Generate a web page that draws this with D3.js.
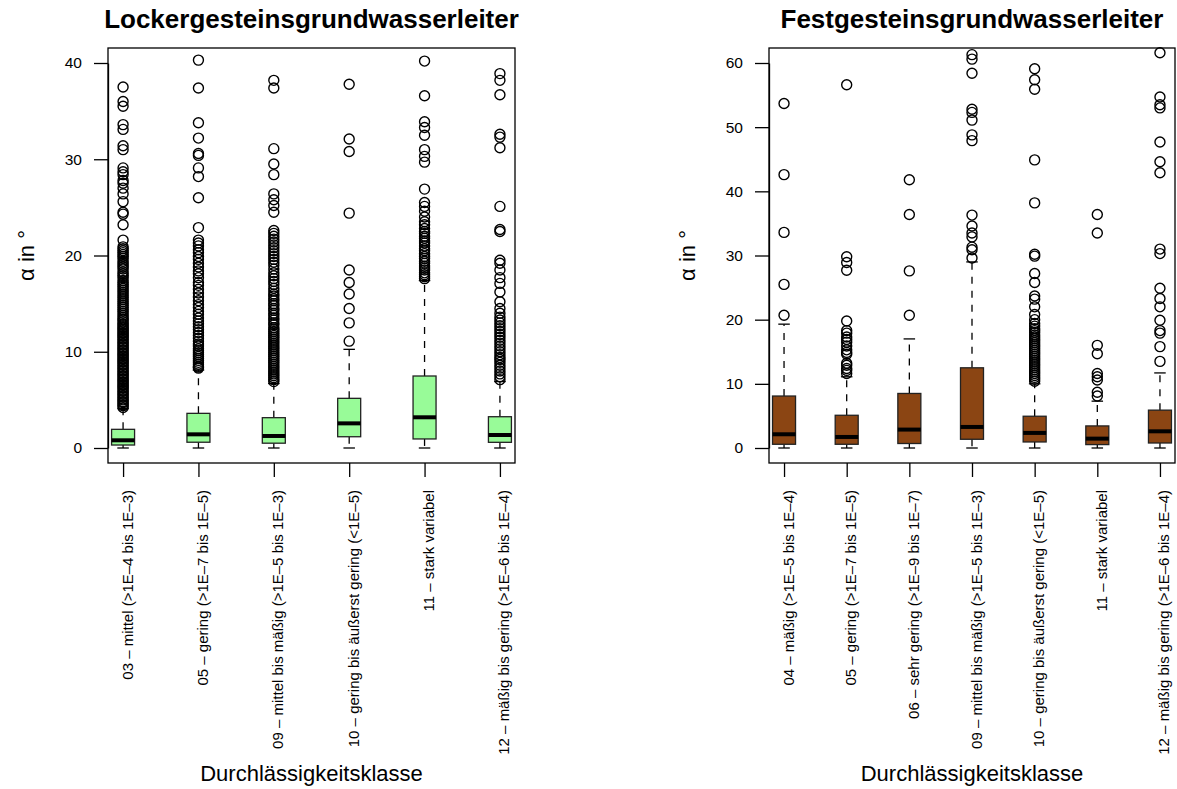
<!DOCTYPE html>
<html>
<head>
<meta charset="utf-8">
<script src="https://cdn.jsdelivr.net/npm/d3@7"></script>
<style>
  body { margin: 0; background: #fff; }
  svg { display: block; font-family: "Liberation Sans", Arial, sans-serif; }
</style>
</head>
<body>
<div id="chart"></div>
<script>
// Lockergestein: Klassen, Box-Statistik [unterer Whisker, Q1, Median, Q3, oberer Whisker], Ausreißer
var lockerClasses = [
    "03 – mittel (>1E–4 bis 1E–3)",
    "05 – gering (>1E–7 bis 1E–5)",
    "09 – mittel bis mäßig (>1E–5 bis 1E–3)",
    "10 – gering bis äußerst gering (<1E–5)",
    "11 – stark variabel",
    "12 – mäßig bis gering (>1E–6 bis 1E–4)"
];
var lockerStats = [
    [0, 0.31, 0.8, 1.94, 4.1],
    [0, 0.6, 1.42, 3.6, 8.1],
    [0, 0.5, 1.25, 3.15, 6.7],
    [0, 1.17, 2.56, 5.16, 10.25],
    [0, 0.94, 3.19, 7.48, 17.4],
    [0, 0.59, 1.35, 3.25, 6.9]
];
var lockerOutliers = [
    [37.5, 36.0, 35.5, 33.6, 33.1, 31.4, 31.0, 29.1, 28.7, 28.4, 27.8, 27.5, 27.0, 26.4, 25.6, 24.5, 24.3, 23.2, 21.6,
     20.9, 20.7, 20.5, 20.3, 20.1, 19.9, 19.7, 19.4, 19.2, 19.0, 18.8, 18.6, 18.3, 18.1, 17.9, 17.7, 17.4, 17.2, 17.0,
     16.8, 16.6, 16.4, 16.2, 16.0, 15.8, 15.6, 15.4, 15.2, 15.0, 14.8, 14.6, 14.4, 14.2, 14.0, 13.8, 13.6, 13.4, 13.3,
     13.1, 12.9, 12.8, 12.6, 12.5, 12.3, 12.2, 12.0, 11.9, 11.7, 11.6, 11.4, 11.3, 11.1, 11.0, 10.8, 10.7, 10.5, 10.4,
     10.2, 10.1, 9.9, 9.8, 9.6, 9.5, 9.3, 9.2, 9.0, 8.9, 8.7, 8.6, 8.4, 8.3, 8.1, 8.0, 7.8, 7.7, 7.5, 7.4, 7.2, 7.1,
     6.9, 6.8, 6.6, 6.5, 6.3, 6.2, 6.0, 5.9, 5.7, 5.6, 5.4, 5.3, 5.1, 5.0, 4.8, 4.7, 4.5, 4.4, 4.2],
    [40.3, 37.4, 33.8, 32.2, 30.6, 30.4, 29.1, 28.2, 26.0, 22.9, 21.6, 21.3, 21.0, 20.6, 20.3, 19.9, 19.6, 19.2, 18.8,
     18.4, 18.1, 17.7, 17.2, 16.9, 16.5, 16.1, 15.7, 15.3, 14.9, 14.6, 14.2, 13.9, 13.5, 13.2, 12.9, 12.6, 12.3, 12.0,
     11.7, 11.4, 11.1, 10.8, 10.6, 10.3, 10.1, 9.9, 9.7, 9.5, 9.3, 9.1, 8.9, 8.7, 8.5, 8.4, 8.3],
    [38.2, 37.4, 31.1, 29.5, 28.4, 26.4, 25.8, 25.2, 24.5, 22.6, 22.3, 22.0, 21.7, 21.4, 21.1, 20.8, 20.5, 20.2, 19.9,
     19.6, 19.3, 19.0, 18.6, 18.2, 17.9, 17.6, 17.3, 17.0, 16.6, 16.3, 16.0, 15.8, 15.5, 15.3, 15.0, 14.8, 14.5, 14.3,
     14.0, 13.8, 13.5, 13.3, 13.0, 12.8, 12.5, 12.3, 12.1, 11.9, 11.7, 11.5, 11.3, 11.1, 10.9, 10.7, 10.5, 10.3, 10.1,
     9.9, 9.7, 9.5, 9.3, 9.1, 8.9, 8.7, 8.5, 8.3, 8.1, 7.9, 7.7, 7.5, 7.3, 7.1, 6.9],
    [37.8, 32.1, 30.8, 24.4, 18.5, 17.2, 16.0, 14.5, 13.0, 11.1],
    [40.2, 36.6, 33.9, 33.3, 32.5, 31.0, 30.3, 29.7, 26.9, 25.5, 25.1, 24.6, 24.0, 23.5, 23.2, 22.8, 22.5, 22.3, 22.0,
     21.8, 21.5, 21.3, 21.0, 20.7, 20.5, 20.2, 19.9, 19.7, 19.4, 19.2, 18.9, 18.7, 18.5, 18.2, 18.0, 17.8, 17.6],
    [38.9, 38.2, 36.7, 32.6, 32.3, 31.2, 25.1, 22.7, 22.5, 19.5, 19.2, 18.5, 17.7, 17.1, 16.2, 15.2, 14.5, 14.0, 13.6,
     13.3, 13.0, 12.7, 12.4, 12.1, 11.8, 11.5, 11.2, 10.9, 10.6, 10.3, 10.0, 9.7, 9.4, 9.2, 8.9, 8.6, 8.3, 8.0, 7.7,
     7.4, 7.1]
];
var lockerTicks = [0, 10, 20, 30, 40];

// Festgestein
var festClasses = [
    "04 – mäßig (>1E–5 bis 1E–4)",
    "05 – gering (>1E–7 bis 1E–5)",
    "06 – sehr gering (>1E–9 bis 1E–7)",
    "09 – mittel bis mäßig (>1E–5 bis 1E–3)",
    "10 – gering bis äußerst gering (<1E–5)",
    "11 – stark variabel",
    "12 – mäßig bis gering (>1E–6 bis 1E–4)"
];
var festStats = [
    [0, 0.58, 2.14, 8.1, 19.3],
    [0, 0.58, 1.72, 5.1, 11.1],
    [0, 0.7, 2.87, 8.5, 17.0],
    [0, 1.36, 3.28, 12.5, 29.0],
    [0, 0.94, 2.35, 4.95, 10.0],
    [0, 0.53, 1.46, 3.44, 7.3],
    [0, 0.78, 2.6, 5.9, 11.7]
];
var festOutliers = [
    [53.7, 42.6, 33.6, 25.5, 20.7],
    [56.6, 29.8, 28.9, 27.7, 19.8, 18.3, 17.9, 17.3, 16.9, 16.5, 15.9, 15.3, 14.9, 14.6, 13.2, 12.9, 12.4, 12.1, 11.6],
    [41.8, 36.4, 27.6, 20.7],
    [61.3, 60.6, 58.4, 52.8, 52.3, 51.1, 48.8, 47.9, 36.3, 34.6, 33.5, 32.9, 31.3, 30.9, 29.6],
    [59.1, 57.4, 55.9, 44.9, 38.2, 30.2, 29.9, 27.2, 25.8, 23.7, 23.2, 22.0, 20.8, 20.0, 19.4, 19.0, 18.6, 18.3, 18.0,
     17.6, 17.3, 17.0, 16.7, 16.4, 16.1, 15.8, 15.5, 15.2, 14.9, 14.6, 14.3, 14.0, 13.7, 13.4, 13.1, 12.8, 12.5, 12.2,
     11.9, 11.6, 11.3, 11.0, 10.7, 10.4],
    [36.4, 33.5, 16.0, 14.7, 11.6, 11.1, 10.6, 8.7, 8.1],
    [61.6, 54.7, 53.5, 53.0, 47.7, 44.6, 42.9, 31.0, 30.3, 24.9, 23.3, 22.0, 19.9, 18.3, 17.9, 15.8, 13.5]
];
var festTicks = [0, 10, 20, 30, 40, 50, 60];

var width = 1177;
var height = 789;

var svg = d3.select("#chart")
    .append("svg")
    .attr("width", width)
    .attr("height", height);

drawPanel({
    left: 108, right: 515, pad: 0.2,
    title: "Lockergesteinsgrundwasserleiter",
    classes: lockerClasses, stats: lockerStats, outliers: lockerOutliers,
    ticks: lockerTicks, fill: "#98fb98"
});
drawPanel({
    left: 769, right: 1175, pad: 0.24,
    title: "Festgesteinsgrundwasserleiter",
    classes: festClasses, stats: festStats, outliers: festOutliers,
    ticks: festTicks, fill: "#8b4513"
});

function drawPanel(p) {
    var top = 48, bottom = 463;
    var boxW = 23;

    // x: one slot per class
    var xScale = d3.scalePoint()
        .domain(p.classes)
        .range([p.left, p.right])
        .padding(p.pad);

    // y: 0..max tick, 15px air inside the frame
    var yScale = d3.scaleLinear()
        .domain([0, d3.max(p.ticks)])
        .range([bottom - 15, top + 15]);

    var g = svg.append("g");

    // title
    g.append("text")
        .attr("x", (p.left + p.right) / 2)
        .attr("y", 28)
        .attr("text-anchor", "middle")
        .attr("font-size", 26)
        .attr("font-weight", "bold")
        .text(p.title);

    // y axis
    var yAxis = d3.axisLeft(yScale)
        .tickValues(p.ticks)
        .tickSizeInner(14)
        .tickSizeOuter(0)
        .tickPadding(12);
    var ya = g.append("g")
        .attr("transform", "translate(" + p.left + ",0)")
        .call(yAxis);
    ya.attr("font-family", null);
    ya.selectAll("text").attr("font-size", 15.5).attr("fill", "#000");
    ya.selectAll("line,path").attr("stroke", "#000").attr("stroke-width", 1.3);

    // x axis with vertical labels
    var xAxis = d3.axisBottom(xScale)
        .tickSizeInner(14)
        .tickSizeOuter(0);
    var xa = g.append("g")
        .attr("transform", "translate(0," + bottom + ")")
        .call(xAxis);
    xa.attr("font-family", null);
    xa.select(".domain").remove();
    xa.selectAll("line").attr("stroke", "#000").attr("stroke-width", 1.3);
    xa.selectAll("text")
        .attr("font-size", 15)
        .attr("fill", "#000")
        .attr("transform", "rotate(-90)")
        .attr("text-anchor", "end")
        .attr("x", -27)
        .attr("y", 9)
        .attr("dy", null);

    // axis titles
    g.append("text")
        .attr("transform", "translate(" + (p.left - 74) + "," + ((top + bottom) / 2) + ") rotate(-90)")
        .attr("text-anchor", "middle")
        .attr("font-size", 22)
        .text("α in °");
    g.append("text")
        .attr("x", (p.left + p.right) / 2)
        .attr("y", 781)
        .attr("text-anchor", "middle")
        .attr("font-size", 22)
        .text("Durchlässigkeitsklasse");

    // boxes
    var boxes = g.selectAll(".box")
        .data(p.stats)
        .enter()
        .append("g")
        .attr("class", "box")
        .attr("transform", function(d, i) { return "translate(" + xScale(p.classes[i]) + ",0)"; });

    // dashed whiskers
    boxes.append("line")
        .attr("x1", 0).attr("x2", 0)
        .attr("y1", function(d) { return yScale(d[3]); })
        .attr("y2", function(d) { return yScale(d[4]); })
        .attr("stroke", "#000").attr("stroke-width", 1.3)
        .attr("stroke-dasharray", "7,7");
    boxes.append("line")
        .attr("x1", 0).attr("x2", 0)
        .attr("y1", function(d) { return yScale(d[1]); })
        .attr("y2", function(d) { return yScale(d[0]); })
        .attr("stroke", "#000").attr("stroke-width", 1.3)
        .attr("stroke-dasharray", "7,7");
    // caps
    [0, 4].forEach(function(k) {
        boxes.append("line")
            .attr("x1", -boxW / 4).attr("x2", boxW / 4)
            .attr("y1", function(d) { return yScale(d[k]); })
            .attr("y2", function(d) { return yScale(d[k]); })
            .attr("stroke", "#000").attr("stroke-width", 1.3);
    });
    boxes.append("rect")
        .attr("x", -boxW / 2)
        .attr("width", boxW)
        .attr("y", function(d) { return yScale(d[3]); })
        .attr("height", function(d) { return yScale(d[1]) - yScale(d[3]); })
        .attr("fill", p.fill)
        .attr("stroke", "#222").attr("stroke-width", 1.3);
    boxes.append("line")
        .attr("x1", -boxW / 2).attr("x2", boxW / 2)
        .attr("y1", function(d) { return yScale(d[2]); })
        .attr("y2", function(d) { return yScale(d[2]); })
        .attr("stroke", "#000").attr("stroke-width", 4);

    // outliers
    boxes.each(function(d, i) {
        d3.select(this).selectAll("circle")
            .data(p.outliers[i])
            .enter()
            .append("circle")
            .attr("cx", 0)
            .attr("cy", function(v) { return yScale(v); })
            .attr("r", 5)
            .attr("fill", "none")
            .attr("stroke", "#000")
            .attr("stroke-width", 1.4);
    });

    // frame
    g.append("rect")
        .attr("x", p.left).attr("y", top)
        .attr("width", p.right - p.left).attr("height", bottom - top)
        .attr("fill", "none")
        .attr("stroke", "#000").attr("stroke-width", 1.3);
}
</script>
</body>
</html>
